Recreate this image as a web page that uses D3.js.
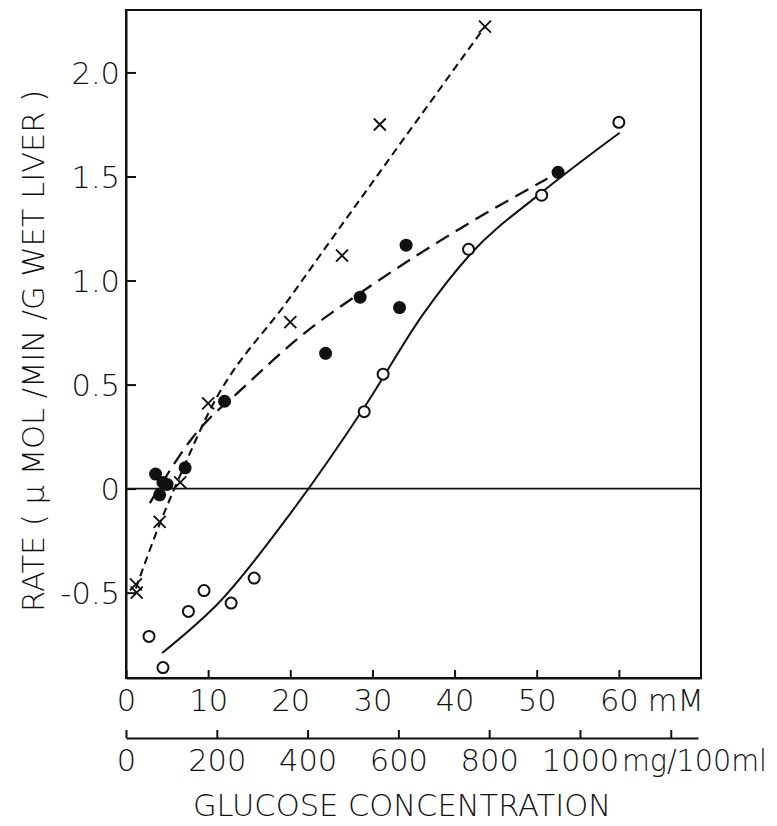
<!DOCTYPE html>
<html>
<head>
<meta charset="utf-8">
<script src="https://cdn.jsdelivr.net/npm/d3@7"></script>
<style>
body { margin:0; background:#fff; }
svg text { font-family:"DejaVu Sans", "Liberation Sans", sans-serif; font-weight:200; fill:#111; }
</style>
</head>
<body>
<div id="chart"></div>
<script>
(function(){
var width = 777,
	height = 826,
	left = 126, right = 701, top = 10, bottom = 678,
	fs = 30.5;

// glucose concentration (mM) vs rate
var crossX = [1.2, 1.3, 4.1, 6.6, 10.0, 20.0, 26.3, 30.9, 43.7],
	crossY = [-0.46, -0.50, -0.16, 0.03, 0.41, 0.80, 1.12, 1.75, 2.22];

var filledX = [3.6, 4.1, 4.5, 5.0, 7.2, 12.0, 24.3, 28.5, 33.3, 34.1, 52.6],
	filledY = [0.07, -0.03, 0.03, 0.02, 0.10, 0.42, 0.65, 0.92, 0.87, 1.17, 1.52];

var openX = [2.8, 4.5, 7.6, 9.5, 12.8, 15.6, 29.0, 31.3, 41.7, 50.6, 60.0],
	openY = [-0.71, -0.86, -0.59, -0.49, -0.55, -0.43, 0.37, 0.55, 1.15, 1.41, 1.76];

// fitted curves
var solidX = [4.4, 11.5, 20, 29, 36.2, 42, 50.5, 60.1],
	solidY = [-0.79, -0.54, -0.12, 0.39, 0.84, 1.13, 1.42, 1.71];

var longX = [2.9, 8, 14.7, 21.2, 30, 41.1, 51.3],
	longY = [-0.07, 0.24, 0.50, 0.73, 0.98, 1.26, 1.49];

var shortX = [1.2, 4.1, 7, 10, 20, 43.7],
	shortY = [-0.48, -0.17, 0.10, 0.36, 0.92, 2.22];

var mMTicks = [0, 10, 20, 30, 40, 50, 60],
	mgTicks = [0, 200, 400, 600, 800, 1000, 1200],
	rateTicks = [-0.5, 0, 0.5, 1.0, 1.5, 2.0];

var X = d3.scaleLinear().domain([0, 70]).range([left, right]);
var Xmg = d3.scaleLinear().domain([0, 70 * 18]).range([left, right - 3]);
var Y = d3.scaleLinear().domain([-0.91, 2.30]).range([bottom, top]);

var svg = d3.select("#chart").append("svg")
	.attr("width", width)
	.attr("height", height);

// frame
svg.append("rect")
	.attr("x", X(0)).attr("y", Y(2.30))
	.attr("width", X(70) - X(0)).attr("height", Y(-0.91) - Y(2.30))
	.attr("fill", "none").attr("stroke", "#111").attr("stroke-width", 2);

// zero line
svg.append("line")
	.attr("x1", X(0)).attr("x2", X(70))
	.attr("y1", Y(0)).attr("y2", Y(0))
	.attr("stroke", "#111").attr("stroke-width", 1.6);

function styleAxis(g){
	g.selectAll("path,line").attr("stroke", "#111").attr("stroke-width", 2);
	g.selectAll("text").attr("font-size", fs).attr("fill", "#111");
}

var yAxis = d3.axisLeft(Y).tickValues(rateTicks).tickSize(-10).tickSizeOuter(0).tickPadding(6)
	.tickFormat(function(d){ return d === 0 ? "0" : d.toFixed(1); });
svg.append("g").attr("transform", "translate(" + left + ",0)").call(yAxis).call(styleAxis)
	.selectAll("text").attr("dy", "0.36em");

var xAxis = d3.axisBottom(X).tickValues(mMTicks).tickSize(-8).tickSizeOuter(0).tickPadding(11);
svg.append("g").attr("transform", "translate(0," + bottom + ")").call(xAxis).call(styleAxis);

var mgAxis = d3.axisBottom(Xmg).tickValues(mgTicks).tickSize(-8).tickSizeOuter(0).tickPadding(11)
	.tickFormat(function(d){ return d === 1200 ? "" : d; });
svg.append("g").attr("transform", "translate(0,738)").call(mgAxis).call(styleAxis);

// unit labels
svg.append("text").attr("x", X(60) + 29).attr("y", bottom + 11).attr("dy", "0.71em")
	.attr("font-size", fs).text("mM");
svg.append("text").attr("x", Xmg(1000) + 42).attr("y", 749).attr("dy", "0.71em")
	.attr("font-size", fs).attr("textLength", 145).attr("lengthAdjust", "spacingAndGlyphs")
	.text("mg/100ml");

svg.append("text").attr("x", 402).attr("y", 816).attr("text-anchor", "middle")
	.attr("font-size", fs).text("GLUCOSE CONCENTRATION");

svg.append("text").attr("transform", "translate(44,351) rotate(-90)").attr("text-anchor", "middle")
	.attr("font-size", fs).text("RATE ( \u03bc MOL /MIN /G WET LIVER )");

// curves
var line = d3.line().x(function(d){ return X(d[0]); }).y(function(d){ return Y(d[1]); })
	.curve(d3.curveMonotoneX);

svg.append("path").datum(d3.zip(solidX, solidY)).attr("d", line)
	.attr("fill", "none").attr("stroke", "#111").attr("stroke-width", 2);
svg.append("path").datum(d3.zip(longX, longY)).attr("d", line)
	.attr("fill", "none").attr("stroke", "#111").attr("stroke-width", 2.3).attr("stroke-dasharray", "15,8");
svg.append("path").datum(d3.zip(shortX, shortY)).attr("d", line)
	.attr("fill", "none").attr("stroke", "#111").attr("stroke-width", 2.1).attr("stroke-dasharray", "8,5");

// markers
svg.selectAll(".open").data(d3.zip(openX, openY)).enter().append("circle")
	.attr("class", "open")
	.attr("cx", function(d){ return X(d[0]); }).attr("cy", function(d){ return Y(d[1]); })
	.attr("r", 5.5).attr("fill", "#fff").attr("stroke", "#111").attr("stroke-width", 2);

svg.selectAll(".filled").data(d3.zip(filledX, filledY)).enter().append("circle")
	.attr("class", "filled")
	.attr("cx", function(d){ return X(d[0]); }).attr("cy", function(d){ return Y(d[1]); })
	.attr("r", 6.5).attr("fill", "#111");

svg.selectAll(".cross").data(d3.zip(crossX, crossY)).enter().append("path")
	.attr("class", "cross")
	.attr("transform", function(d){ return "translate(" + X(d[0]) + "," + Y(d[1]) + ")"; })
	.attr("d", "M-6,-6L6,6M-6,6L6,-6")
	.attr("stroke", "#111").attr("stroke-width", 1.9).attr("fill", "none");

})()
</script>
</body>
</html>
